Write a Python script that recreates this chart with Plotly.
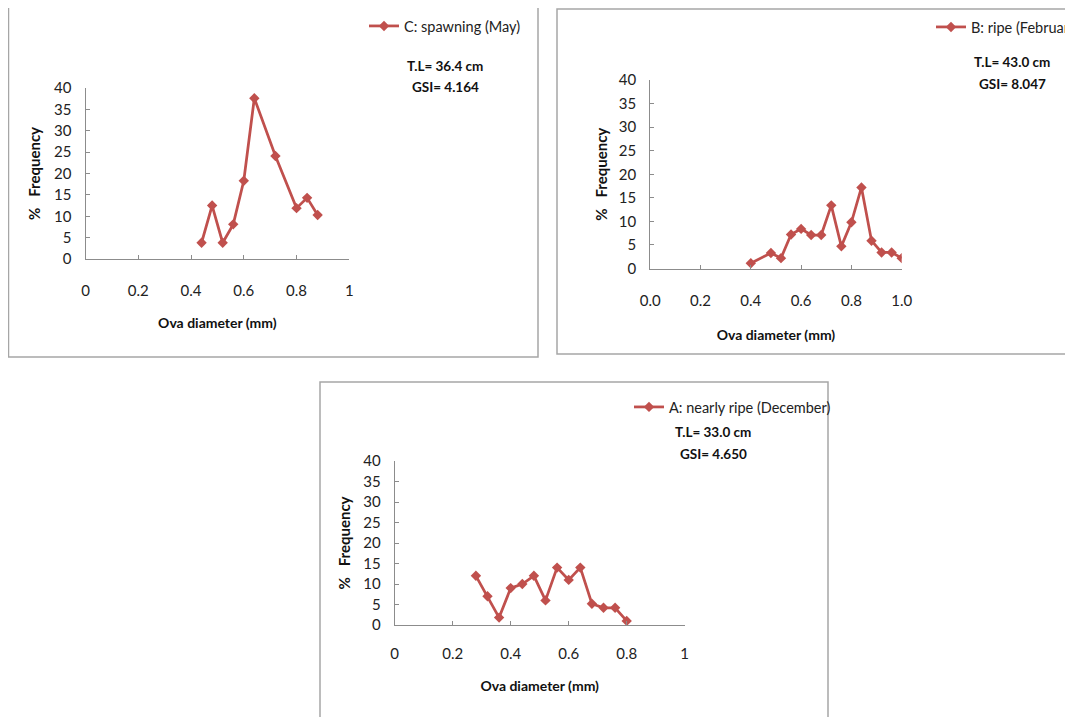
import plotly.graph_objects as go

# The page body has an 8 px margin, so the figure is shifted by 8 px.
OFF = 8
W, H = 1073 - OFF, 717 - OFF

# ---- data ----
x_c = [0.44, 0.48, 0.52, 0.56, 0.60, 0.64, 0.72, 0.80, 0.84, 0.88]
y_c = [3.8, 12.5, 3.8, 8.1, 18.3, 37.6, 24.1, 11.9, 14.3, 10.3]
name_c = "C: spawning (May)"
info_c = ["T.L= 36.4 cm", "GSI= 4.164"]

x_b = [0.40, 0.48, 0.52, 0.56, 0.60, 0.64, 0.68, 0.72, 0.76, 0.80, 0.84, 0.88, 0.92, 0.96, 1.00]
y_b = [1.1, 3.3, 2.2, 7.2, 8.4, 7.1, 7.1, 13.4, 4.7, 9.8, 17.2, 5.9, 3.4, 3.4, 2.2]
name_b = "B: ripe (February)"
info_b = ["T.L= 43.0 cm", "GSI= 8.047"]

x_a = [0.28, 0.32, 0.36, 0.40, 0.44, 0.48, 0.52, 0.56, 0.60, 0.64, 0.68, 0.72, 0.76, 0.80]
y_a = [12.0, 7.0, 1.8, 9.0, 10.0, 12.0, 6.0, 14.0, 11.0, 14.0, 5.2, 4.2, 4.2, 1.0]
name_a = "A: nearly ripe (December)"
info_a = ["T.L= 33.0 cm", "GSI= 4.650"]

x_title = "Ova diameter (mm)"
y_title = "%\u00a0\u00a0\u00a0Frequency"

RED = "#C0504D"
GREY = "#8C8C8C"
FONT = "Lato"

def px(x):
    return (x - OFF) / W

def py(y):
    return 1 - (y - OFF) / H

fig = go.Figure()

panels = [
    (x_c, y_c, name_c, "", "legend"),
    (x_b, y_b, name_b, "2", "legend2"),
    (x_a, y_a, name_a, "3", "legend3"),
]
for xs, ys, nm, sfx, lg in panels:
    fig.add_trace(go.Scatter(
        x=xs, y=ys, name=nm, mode="lines+markers",
        xaxis="x" + sfx, yaxis="y" + sfx, legend=lg, showlegend=True,
        line=dict(color=RED, width=2.75),
        marker=dict(symbol="diamond", size=8, color=RED),
    ))

def xax(domain, anchor, fmt, lab_off, standoff):
    return dict(
        domain=domain, anchor=anchor, range=[0, 1], dtick=0.2, tick0=0,
        tickformat=fmt, showline=True, linecolor=GREY, linewidth=1,
        ticks="inside", ticklen=4, tickcolor=GREY, showgrid=False, zeroline=False,
        ticklabelstandoff=lab_off, tickfont=dict(family=FONT, size=15, color="#222"),
        title=dict(text="<b>" + x_title + "</b>", standoff=standoff,
                   font=dict(family=FONT, size=14, color="#111")),
        fixedrange=True,
    )

def yax(domain, anchor, standoff):
    return dict(
        domain=domain, anchor=anchor, range=[0, 40], dtick=5,
        showline=True, linecolor=GREY, linewidth=1,
        ticks="inside", ticklen=4, tickcolor=GREY, showgrid=False, zeroline=False,
        ticklabelstandoff=10, tickfont=dict(family=FONT, size=15, color="#222"),
        title=dict(text="<b>" + y_title + "</b>", standoff=standoff,
                   font=dict(family=FONT, size=15, color="#111")),
        fixedrange=True,
    )

layout = dict(
    width=W, height=H, margin=dict(l=0, r=0, t=0, b=0, autoexpand=False),
    paper_bgcolor="white", plot_bgcolor="white",
    font=dict(family=FONT, size=14, color="#111"),
    xaxis=xax([px(85.5), px(349.3)], "y", None, 18, 20),
    yaxis=yax([py(259), py(88)], "x", 9),
    xaxis2=xax([px(650.2), px(901.7)], "y2", ".1f", 18, 22),
    yaxis2=yax([py(268.5), py(80)], "x2", 7),
    xaxis3=xax([px(394.7), px(684.7)], "y3", None, 15, 20),
    yaxis3=yax([py(625), py(461)], "x3", 9),
)

def leg(x_line, y_mid):
    return dict(x=px(x_line - 9), y=py(y_mid), xanchor="left", yanchor="middle",
                bgcolor="rgba(0,0,0,0)", borderwidth=0,
                font=dict(family=FONT, size=14.5, color="#222"))

layout["legend"] = leg(373, 26)
layout["legend2"] = leg(940, 27)
layout["legend3"] = leg(638, 407)

fig.update_layout(**layout)

# panel frames
frames = [(8.5, 6.5, 538, 357), (557, 9, 1090, 354), (320, 382, 828, 740)]
for x0, y0, x1, y1 in frames:
    fig.add_shape(type="rect", xref="paper", yref="paper",
                  x0=px(x0), x1=px(x1), y0=py(y1), y1=py(y0),
                  line=dict(color="#A6A6A6", width=1.5), fillcolor="rgba(0,0,0,0)",
                  layer="below")

# T.L / GSI annotations
for info, cx, ys in [(info_c, 445, (66, 87)), (info_b, 1012, (62, 84)), (info_a, 713, (432, 454))]:
    for txt, yy in zip(info, ys):
        fig.add_annotation(xref="paper", yref="paper", x=px(cx), y=py(yy),
                           text="<b>" + txt + "</b>", showarrow=False,
                           xanchor="center", yanchor="middle",
                           font=dict(family=FONT, size=13.5, color="#111"))

fig.write_html("out.html")
